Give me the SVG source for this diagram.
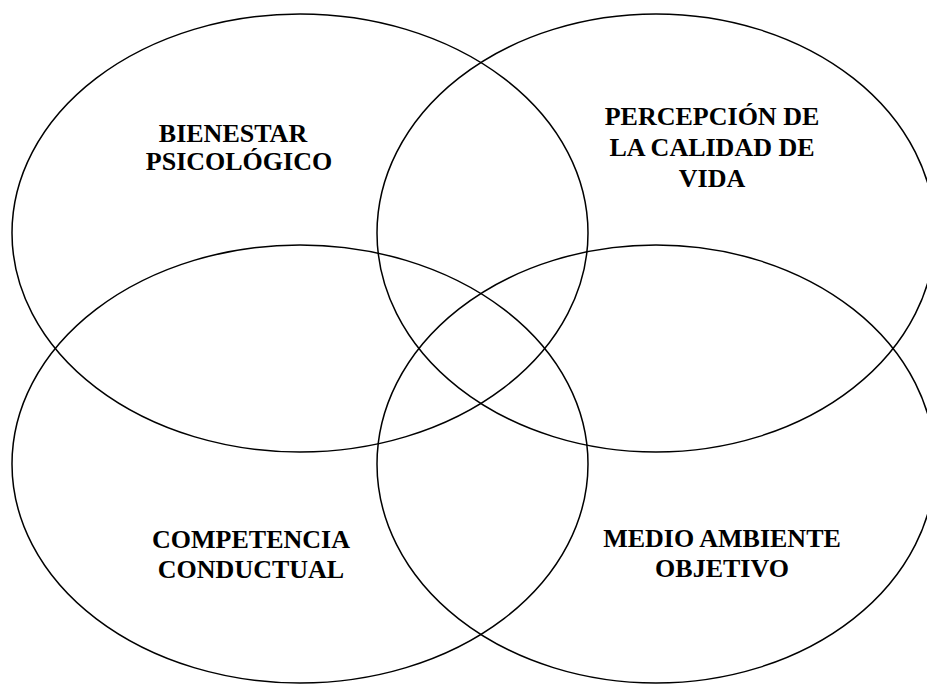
<svg xmlns="http://www.w3.org/2000/svg" width="927" height="684" viewBox="0 0 927 684">
<style>
.c{fill:none;stroke:#000;stroke-width:1.5}
.t{font-family:"Liberation Serif","Times New Roman",serif;font-weight:bold;font-size:26px;fill:#000;text-anchor:middle}
</style>
<rect width="927" height="684" fill="#fff"/>
<g id="connectors"></g>
<g id="bienestar">
<ellipse class="c" cx="300" cy="233" rx="288" ry="219"/>
<text class="t" x="233" y="142">BIENESTAR</text>
<text class="t" x="239" y="170">PSICOLÓGICO</text>
</g>
<g id="percepcion">
<ellipse class="c" cx="656" cy="233" rx="279" ry="219"/>
<text class="t" x="712" y="125">PERCEPCIÓN DE</text>
<text class="t" x="712" y="156">LA CALIDAD DE</text>
<text class="t" x="712" y="187">VIDA</text>
</g>
<g id="competencia">
<ellipse class="c" cx="300" cy="464" rx="288" ry="219"/>
<text class="t" x="251" y="548">COMPETENCIA</text>
<text class="t" x="251" y="578">CONDUCTUAL</text>
</g>
<g id="medio">
<ellipse class="c" cx="656" cy="464" rx="279" ry="219"/>
<text class="t" x="722" y="547">MEDIO AMBIENTE</text>
<text class="t" x="722" y="577">OBJETIVO</text>
</g>
</svg>
